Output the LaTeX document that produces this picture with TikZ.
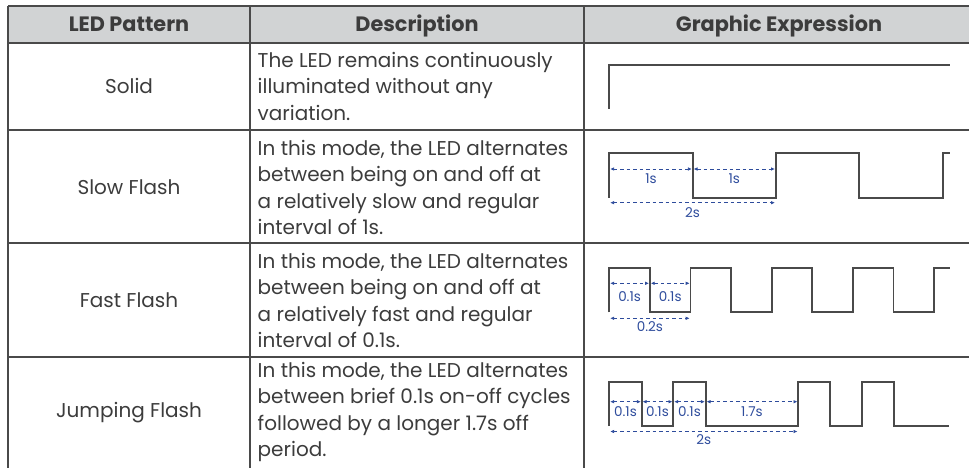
\documentclass[tikz,border=0pt]{standalone}
\usepackage{fontspec}
\setmainfont{Poppins}
\usetikzlibrary{arrows.meta}
\definecolor{linegray}{HTML}{4A4A4A}
\definecolor{headfill}{HTML}{D1D3D4}
\definecolor{txt}{HTML}{3C3C3C}
\definecolor{dimblue}{HTML}{2E4C9C}
\newcommand\dimarr[5]{%
  \draw[dimline] (#1,#3) -- (#2,#3);
  \node[dimlabel] at ({(#1+#2)/2},#5) {#4};}
\begin{document}
\begin{tikzpicture}[x=1pt,y=-1pt,
  grid/.style={draw=linegray, line width=1.7pt},
  wave/.style={draw=linegray, line width=1.7pt, line join=miter},
  dimline/.style={draw=dimblue, line width=0.9pt, dash pattern=on 3.5pt off 3pt,
    {Latex[length=4pt,width=3.6pt]}-{Latex[length=4pt,width=3.6pt]}, shorten <=0.8pt, shorten >=0.8pt},
  dimlabel/.style={text=dimblue, font=\fontsize{13.5}{14}\selectfont, inner sep=0pt},
  headtext/.style={font=\bfseries\fontsize{20.8}{22}\selectfont, text=txt, anchor=base, inner sep=0pt},
  celltext/.style={font=\fontsize{20}{26.5}\selectfont, text=txt},
  desc/.style={celltext, align=left, anchor=west, inner sep=0pt}]
\useasboundingbox (0,0) rectangle (969,468);
\clip (0,0) rectangle (969,468);
% header band
\fill[headfill] (8,5.7) rectangle (980,42.7);
% grid
\draw[grid] (8,5.7) -- (980,5.7);
\draw[grid, line width=2.2pt] (8,42.7) -- (980,42.7);
\draw[grid] (8,130) -- (980,130);
\draw[grid] (8,243.3) -- (980,243.3);
\draw[grid] (8,356.7) -- (980,356.7);
\draw[grid] (8,470) -- (980,470);
\draw[grid] (8,5.7) -- (8,480);
\draw[grid] (250,5.7) -- (250,480);
\draw[grid] (584.3,5.7) -- (584.3,480);
% header texts
\node[headtext] (h1) at (129,31.5) {LED Pattern};
\node[headtext] (h2) at (417,31.5) {Description};
\node[headtext] (h3) at (779,31.5) {Graphic Expression};
% pattern names
\node[celltext] (p1) at (129,86.3) {Solid};
\node[celltext] (p2) at (129,187) {Slow Flash};
\node[celltext] (p3) at (129,300) {Fast Flash};
\node[celltext] (p4) at (129,413) {Jumping Flash};
% descriptions
\node[desc] (d1) at (257.5,86.3) {The LED remains continuously\\illuminated without any\\variation.};
\node[desc] (d2) at (257.5,187.5) {In this mode, the LED alternates\\between being on and off at\\a relatively slow and regular\\interval of 1s.};
\node[desc] (d3) at (257.5,300.5) {In this mode, the LED alternates\\between being on and off at\\a relatively fast and regular\\interval of 0.1s.};
\node[desc] (d4) at (257.5,412) {In this mode, the LED alternates\\between brief 0.1s on-off cycles\\followed by a longer 1.7s off\\period.};
% solid
\draw[wave] (609.3,109) -- (609.3,65) -- (950,65);
% slow flash
\draw[wave] (609.3,197.7) -- (609.3,153.3) -- (692.7,153.3) -- (692.7,197.7) -- (775.8,197.7)
  -- (775.8,153.3) -- (859.3,153.3) -- (859.3,197.7) -- (942.7,197.7) -- (942.7,153.3) -- (950,153.3);
\dimarr{609.3}{692.7}{169}{1s}{179}
\dimarr{692.7}{775.8}{169}{1s}{179}
\dimarr{609.3}{775.8}{202.7}{2s}{212.7}
% fast flash
\draw[wave] (609.3,312.3) -- (609.3,268.3) -- (649.9,268.3) -- (649.9,312.3) -- (690.5,312.3)
  -- (690.5,268.3) -- (731.1,268.3) -- (731.1,312.3) -- (771.7,312.3)
  -- (771.7,268.3) -- (812.3,268.3) -- (812.3,312.3) -- (852.9,312.3)
  -- (852.9,268.3) -- (893.5,268.3) -- (893.5,312.3) -- (934.1,312.3)
  -- (934.1,268.3) -- (949.5,268.3);
\dimarr{609.3}{649.9}{283.3}{0.1s}{296.7}
\dimarr{649.9}{690.5}{283.3}{0.1s}{296.7}
\dimarr{609.3}{690.5}{318.3}{0.2s}{326.5}
% jumping flash
\draw[wave] (609.3,426) -- (609.3,381.7) -- (641.7,381.7) -- (641.7,426) -- (673.3,426)
  -- (673.3,381.7) -- (705.7,381.7) -- (705.7,426) -- (798.3,426)
  -- (798.3,381.7) -- (830,381.7) -- (830,426) -- (861.7,426)
  -- (861.7,381.7) -- (894,381.7) -- (894,426) -- (949.3,426);
\dimarr{609.3}{641.7}{401.7}{0.1s}{411.7}
\dimarr{641.7}{673.3}{401.7}{0.1s}{411.7}
\dimarr{673.3}{705.7}{401.7}{0.1s}{411.7}
\dimarr{705.7}{798.3}{401.7}{1.7s}{411.7}
\dimarr{609.3}{798.3}{431.5}{2s}{439.5}
\end{tikzpicture}
\end{document}
